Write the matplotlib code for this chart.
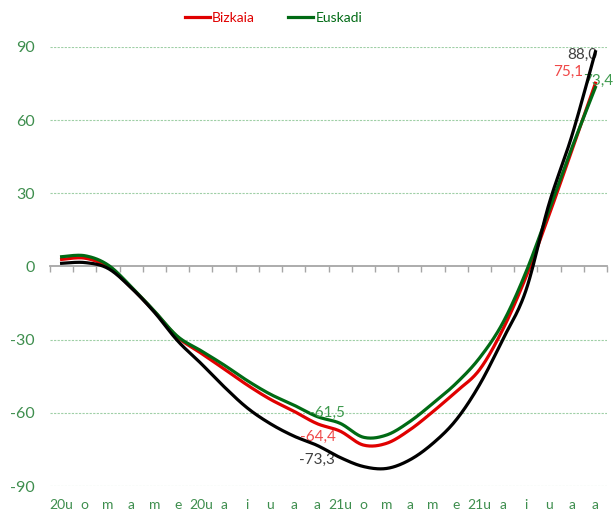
import numpy as np
import matplotlib.pyplot as plt

plt.rcParams['font.family'] = ['Lato', 'DejaVu Sans']
plt.rcParams['axes.unicode_minus'] = False

months = ["20u", "o", "m", "a", "m", "e", "20u", "a", "i", "u", "a", "a",
          "21u", "o", "m", "a", "m", "e", "21u", "a", "i", "u", "a", "a"]

bizkaia = [2.9, 3.4, -0.2, -8.6, -18.5, -29.0, -35.5, -42.0, -48.6, -54.5, -59.3, -64.4,
           -67.5, -73.2, -72.5, -67.0, -59.5, -51.3, -42.4, -26.0, -4.5, 21.0, 48.0, 75.1]
euskadi = [4.0, 4.4, 0.6, -8.3, -18.3, -28.7, -34.5, -40.4, -46.8, -52.4, -56.8, -61.5,
           -64.3, -70.0, -69.1, -63.6, -56.1, -47.9, -37.6, -23.3, -2.5, 23.0, 49.0, 73.4]
otra = [1.3, 1.6, -0.8, -8.8, -18.8, -30.5, -39.7, -49.3, -58.0, -64.5, -69.5, -73.3,
        -78.3, -82.0, -82.8, -79.3, -72.5, -62.9, -48.6, -30.1, -10.0, 25.6, 54.0, 88.0]

red = '#E00000'
green = '#006A14'
black = '#000000'
tick_green = '#3E8E4E'


def smooth(y, n=24):
    # Excel-like smoothed line (Catmull-Rom bezier)
    y = np.asarray(y, float)
    x = np.arange(len(y), dtype=float)
    p = np.column_stack([x, y])
    t = np.linspace(0, 1, n)[:, None]
    out = []
    for i in range(len(p) - 1):
        p0 = p[i - 1] if i > 0 else p[i]
        p1, p2 = p[i], p[i + 1]
        p3 = p[i + 2] if i + 2 < len(p) else p[i + 1]
        c1 = p1 + (p2 - p0) / 6
        c2 = p2 - (p3 - p1) / 6
        seg = ((1 - t) ** 3) * p1 + 3 * ((1 - t) ** 2) * t * c1 + 3 * (1 - t) * t ** 2 * c2 + t ** 3 * p2
        out.append(seg if i == 0 else seg[1:])
    out = np.vstack(out)
    return out[:, 0], out[:, 1]


fig = plt.figure(figsize=(6.16, 5.16), dpi=100)
ax = fig.add_axes([0.0812, 0.0581, 0.9042, 0.851])

for v in [-90, -60, -30, 30, 60, 90]:
    ax.axhline(v, color='#9FCFA6', lw=0.8, ls=(0, (2, 1.2)), zorder=1)

xs, ys = smooth(bizkaia)
ax.plot(xs, ys, color=red, lw=2.3, label='Bizkaia', zorder=3, clip_on=False)
xs, ys = smooth(euskadi)
ax.plot(xs, ys, color=green, lw=2.3, label='Euskadi', zorder=3, clip_on=False)
xs, ys = smooth(otra)
ax.plot(xs, ys, color=black, lw=2.3, zorder=4, clip_on=False)

ax.set_xlim(-0.5, len(months) - 0.5)
ax.set_ylim(-90, 90)

for s in ['top', 'right', 'left']:
    ax.spines[s].set_visible(False)
ax.spines['bottom'].set_position(('data', 0))
ax.spines['bottom'].set_color('#A6A6A6')
ax.spines['bottom'].set_linewidth(1.3)
ax.spines['bottom'].set_zorder(2)
ax.set_xticks(np.arange(-0.5, len(months), 1))
ax.set_xticklabels([])
ax.tick_params(axis='x', length=4, width=1, color='#A6A6A6', direction='out')

ax.set_yticks(np.arange(-90, 91, 30))
ax.tick_params(axis='y', length=0, pad=11, labelsize=11.5, labelcolor=tick_green)

sec = ax.secondary_xaxis(0)
sec.set_xticks(range(len(months)), months)
sec.spines['bottom'].set_visible(False)
sec.tick_params(length=0, pad=9, labelsize=10, labelcolor=tick_green)

# data labels
i = 11
ax.annotate('-61,5', (i, euskadi[i]), xytext=(10, 4), textcoords='offset pixels',
            ha='center', va='center', color='#3E9A4E', fontsize=11)
ax.annotate('-64,4', (i, bizkaia[i]), xytext=(1, -13), textcoords='offset pixels',
            ha='center', va='center', color='#F04848', fontsize=11)
ax.annotate('-73,3', (i, otra[i]), xytext=(0, -15), textcoords='offset pixels',
            ha='center', va='center', color='#404040', fontsize=11)
j = len(months) - 1
ax.annotate('88,0', (j, otra[j]), xytext=(2, -3), textcoords='offset pixels',
            ha='right', va='center', color='#404040', fontsize=11)
ax.annotate('75,1', (j, bizkaia[j]), xytext=(-12, 11), textcoords='offset pixels',
            ha='right', va='center', color='#F04848', fontsize=11)
ax.annotate('73,4', (j, euskadi[j]), xytext=(3, 7), textcoords='offset pixels',
            ha='center', va='center', color='#3E9A4E', fontsize=11)

leg = fig.legend(loc='center', bbox_to_anchor=(0.444, 0.966), ncol=2, frameon=False,
                 fontsize=10, handlelength=1.8, handletextpad=0.15, columnspacing=2.4,
                 labelcolor='linecolor')

fig.savefig('out.png', dpi=100)
